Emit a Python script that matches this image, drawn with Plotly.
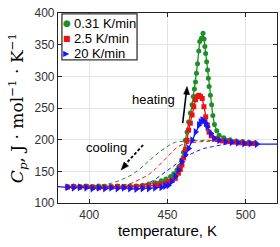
import plotly.graph_objects as go

# ---------------- data ----------------
green_T = [386, 390, 394, 398, 402, 406, 410, 414, 418, 422, 426, 430, 434, 438, 442, 446, 449, 452, 454,
           456, 457.5, 459, 460.2, 461.4, 462.5, 463.5, 464.6, 465.7, 466.5, 467.2, 467.9, 468.5, 469.2, 470,
           470.6, 471.7, 472.7, 473.4, 473.9, 474.4, 475, 475.6, 476.1, 476.6, 477.4, 478.2, 479, 480, 481.5,
           483, 486, 490, 494, 498, 502, 506]
green_cp = [126, 127, 126, 127, 126, 127, 126, 126, 127, 126, 127, 127, 128, 130, 132, 135, 138, 142, 146,
            152, 158, 168, 180, 199, 212, 228, 242, 255, 268, 280, 291, 305, 320, 340,
            355, 360, 368, 359, 347, 336, 323, 310, 297, 284, 270, 255, 238, 224, 214,
            207, 203, 200, 198, 197, 196, 195]

red_T = [386, 390, 394, 398, 402, 406, 410, 414, 418, 422, 426, 430, 434, 438, 442, 445, 448.4, 451, 453,
         455, 457, 458.2, 459.2, 460.3, 461.4, 462.5, 463.5, 464.6, 465.7, 466.8, 467.9, 469, 470, 471.1,
         472.2, 473.3, 474.4, 475.5, 476.5, 478, 480, 482, 485, 489, 493, 497, 501, 505]
red_cp = [125, 126, 125, 126, 125, 124, 125, 125, 126, 125, 125, 126, 126, 127, 128, 129, 131, 134, 136,
          139, 147, 153, 160, 171, 184, 199, 215, 226, 239, 252, 263, 268, 270, 268,
          265, 252, 236, 223, 212, 206, 202, 200, 198, 197, 196, 195, 194, 194]

blue_T = [380, 386, 390, 394, 398, 402, 406, 410, 414, 418, 422, 426, 430, 434, 438, 442, 446, 448.5,
          450.6, 452.7, 455, 457, 459.2, 461.4, 463.5, 465.7, 467.9, 470, 471.1, 472.2, 473.3, 474.4,
          475.5, 477.6, 479.8, 483, 487, 491, 495, 499, 503, 507, 520]
blue_cp = [126, 125, 124, 125, 124, 123, 124, 123, 124, 123, 124, 123, 122, 123, 123, 124, 125, 127,
           128, 134, 142, 152, 165, 176, 186, 199, 212, 223, 228, 231, 230, 226,
           220, 210, 202, 199, 197, 196, 195, 194, 194, 193, 193]

green_cool_T = [390, 400, 406, 413.8, 420, 426.8, 432, 436.5, 441, 445, 451.6, 455, 462, 468, 475, 485]
green_cool_cp = [126, 127, 128, 131, 136, 144, 153, 163, 172, 181, 192, 196, 198, 199, 199, 198]

red_cool_T = [390, 405, 415, 421, 426.8, 432, 437.6, 442, 446, 449, 452.7, 456, 459.2, 465, 472, 480, 489.5]
red_cool_cp = [126, 126, 127, 128, 131, 137, 144, 153, 163, 172, 181, 188, 192, 195, 197, 198, 198]

blue_cool_T = [390, 410, 425, 432, 437.6, 442, 446, 450.6, 455, 459.2, 463, 468, 473, 478.7, 484, 489.5, 495]
blue_cool_cp = [125, 125, 126, 128, 131, 137, 144, 153, 161, 168, 175, 181, 186, 189, 192, 194, 195]

labels = ["0.31 K/min", "2.5 K/min", "20 K/min"]
colors = ["#1e8f28", "#ee1111", "#1515ff"]
symbols = ["circle", "square", "triangle-right"]
legend_glyphs = ["●", "■", "▶"]
legend_glyph_sizes = [9, 8, 8]
sizes = [5, 5, 7]

x_ticks = [400, 450, 500]
y_ticks = [100, 150, 200, 250, 300, 350, 400]

# ---------------- figure ----------------
fig = go.Figure()

# cooling (dashed)
for Tc, cc, col in [(green_cool_T, green_cool_cp, colors[0]),
                    (red_cool_T, red_cool_cp, colors[1]),
                    (blue_cool_T, blue_cool_cp, colors[2])]:
    fig.add_trace(go.Scatter(x=Tc, y=cc, mode="lines", showlegend=False, hoverinfo="skip",
                             line=dict(color=col, width=1, dash="4px,3px")))

heat = [(green_T, green_cp), (red_T, red_cp), (blue_T, blue_cp)]
for i, (T, c) in enumerate(heat):
    fig.add_trace(go.Scatter(x=T, y=c, mode="lines", showlegend=False, hoverinfo="skip",
                             line=dict(color=colors[i], width=1.3)))
for i, (T, c) in enumerate(heat):
    if i == 2:
        T, c = T[1:-1], c[1:-1]
    fig.add_trace(go.Scatter(x=T, y=c, mode="markers", name=labels[i], showlegend=False,
                             marker=dict(color=colors[i], symbol=symbols[i], size=sizes[i],
                                         line=dict(width=0))))

# ---- legend box (drawn) ----
fig.add_shape(type="rect", xref="paper", yref="paper", x0=0.018, x1=0.361, y0=0.753, y1=0.995,
              line=dict(color="#333", width=1.3), fillcolor="white", layer="above")
row_y = [0.947, 0.868, 0.789]
for i in range(3):
    fig.add_annotation(x=0.041, y=row_y[i], xref="paper", yref="paper", showarrow=False,
                       text=legend_glyphs[i], xanchor="center", yanchor="middle",
                       font=dict(size=legend_glyph_sizes[i], color=colors[i],
                                 family="DejaVu Sans"))
    fig.add_annotation(x=0.062, y=row_y[i], xref="paper", yref="paper", showarrow=False,
                       text=labels[i], xanchor="left", yanchor="middle",
                       font=dict(size=13, color="black"))

# ---- heating arrow ----
fig.add_shape(type="line", x0=459.7, y0=226, x1=462.1, y1=276, xref="x", yref="y",
              line=dict(color="black", width=1.6))
fig.add_shape(type="path", xref="x", yref="y", xsizemode="pixel", ysizemode="pixel",
              xanchor=462.5, yanchor=284, path="M 0,0 L 2.6,-8.3 L -3.4,-7.6 Z",
              fillcolor="black", line=dict(color="black", width=0.5))
fig.add_annotation(x=441, y=263, xref="x", yref="y", text="heating", showarrow=False,
                   font=dict(size=13, color="black"))

# ---- cooling arrow ----
fig.add_shape(type="line", x0=434.4, y0=191.6, x1=423.0, y1=161, xref="x", yref="y",
              line=dict(color="black", width=1.8, dash="3px,2px"))
fig.add_shape(type="path", xref="x", yref="y", xsizemode="pixel", ysizemode="pixel",
              xanchor=420.3, yanchor=152, path="M 0,0 L 7.5,4.1 L 3.0,8.0 Z",
              fillcolor="black", line=dict(color="black", width=0.5))
fig.add_annotation(x=411, y=187, xref="x", yref="y", text="cooling", showarrow=False,
                   font=dict(size=13, color="black"))

axis_common = dict(showline=True, linecolor="#222", linewidth=1.2, mirror="ticks",
                   ticks="inside", ticklen=4, tickcolor="#222", automargin=False,
                   showgrid=True, gridcolor="#e3e3e3", gridwidth=1, zeroline=False,
                   tickfont=dict(size=12, color="#333"))

fig.update_layout(
    width=280, height=247,
    margin=dict(l=58, r=3, t=13, b=44),
    paper_bgcolor="white", plot_bgcolor="white",
    font=dict(family="Arial, Liberation Sans, sans-serif", color="black"),
    xaxis=dict(range=[380, 520], tickvals=x_ticks, **axis_common,
               title=dict(text="temperature, K", font=dict(size=15), standoff=3)),
    yaxis=dict(range=[100, 400], tickvals=y_ticks, **axis_common,
               title=dict(text="<i>C<sub>p</sub></i>, J · mol<sup>−1</sup> · K<sup>−1</sup>",
                          font=dict(size=17, family="DejaVu Serif, Liberation Serif, serif"), standoff=6)),
    showlegend=False,
)

fig.write_html("out.html", config={"displayModeBar": False},
               post_script="document.body.style.margin='0';")
